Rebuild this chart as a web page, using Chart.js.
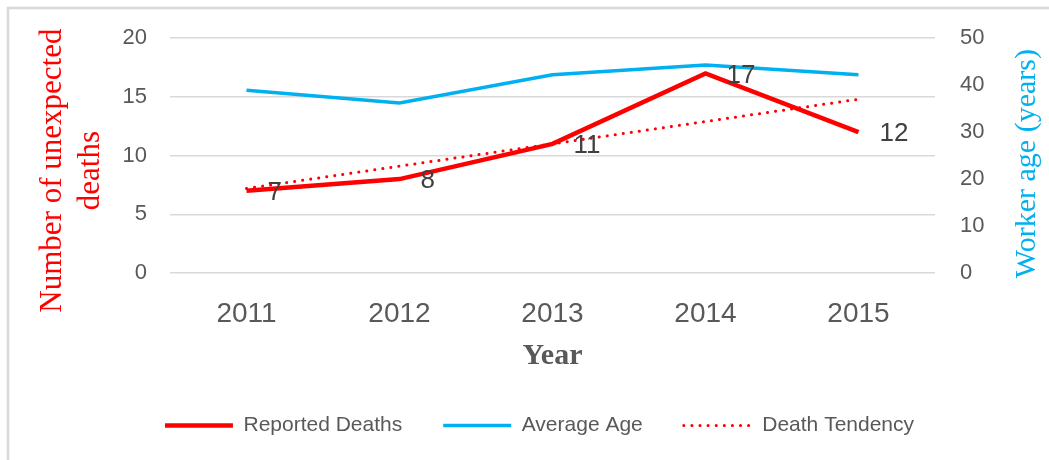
<!DOCTYPE html>
<html>
<head>
<meta charset="utf-8">
<script src="https://cdn.jsdelivr.net/npm/chart.js@4"></script>
<style>
    html, body { margin: 0; padding: 0; background: #fff; }
    #wrap { width: 1049px; height: 460px; }
</style>
</head>
<body>
<div id="wrap"><canvas id="deaths_chart" width="1049" height="460"></canvas></div>
<script>
const years = ["2011", "2012", "2013", "2014", "2015"];
const reportedDeaths = [7, 8, 11, 17, 12];
const averageAge = [38.9, 36.2, 42.2, 44.3, 42.2];
const deathTendency = [7.2, 9.1, 11.0, 12.9, 14.8];
const deathTicks = [0, 5, 10, 15, 20];
const ageTicks = [0, 10, 20, 30, 40, 50];

const RED = "#ff0000", BLUE = "#00b0f0", GREY = "#595959";
const SANS = "'Liberation Sans', Arial, sans-serif";
const SERIF = "'Liberation Serif', 'Times New Roman', serif";

// white background plus the frame on the top and left edges
const frame = {
    id: "frame",
    beforeDraw: function (chart) {
        const ctx = chart.ctx;
        ctx.save();
        ctx.fillStyle = "#fff";
        ctx.fillRect(0, 0, chart.width, chart.height);
        ctx.strokeStyle = "#d9d9d9";
        ctx.lineWidth = 2.5;
        ctx.strokeRect(8, 8, chart.width + 20, chart.height + 20);
        ctx.restore();
    }
};

// vertical axis titles, both reading bottom to top
const sideTitles = {
    id: "sideTitles",
    afterDraw: function (chart) {
        const ctx = chart.ctx;
        const mid = chart.chartArea.top + chart.chartArea.height / 2;
        ctx.save();
        ctx.textAlign = "center";
        ctx.textBaseline = "middle";
        ctx.font = "31px " + SERIF;

        ctx.fillStyle = RED;
        ctx.save();
        ctx.translate(53, mid + 15);
        ctx.rotate(-Math.PI / 2);
        ctx.fillText("Number of unexpected", 0, 0);
        ctx.restore();
        ctx.save();
        ctx.translate(91, mid + 15);
        ctx.rotate(-Math.PI / 2);
        ctx.fillText("deaths", 0, 0);
        ctx.restore();

        ctx.font = "30px " + SERIF;
        ctx.fillStyle = BLUE;
        ctx.translate(1027, mid + 8);
        ctx.rotate(-Math.PI / 2);
        ctx.fillText("Worker age (years)", 0, 0);
        ctx.restore();
    }
};

// value labels next to the reported deaths line
const valueLabels = {
    id: "valueLabels",
    afterDatasetsDraw: function (chart) {
        const ctx = chart.ctx;
        const meta = chart.getDatasetMeta(0);
        ctx.save();
        ctx.font = "26px " + SANS;
        ctx.fillStyle = "#404040";
        ctx.textAlign = "left";
        ctx.textBaseline = "middle";
        meta.data.forEach(function (pt, i) {
            ctx.fillText(String(chart.data.datasets[0].data[i]), pt.x + 21, pt.y + 2);
        });
        ctx.restore();
    }
};

new Chart(document.getElementById("deaths_chart").getContext("2d"), {
    type: "line",
    data: {
        labels: years,
        datasets: [{
            label: "Reported Deaths",
            data: reportedDeaths,
            borderColor: RED,
            backgroundColor: RED,
            borderWidth: 4.5,
            yAxisID: "y",
            order: 1
        }, {
            label: "Average Age",
            data: averageAge,
            borderColor: BLUE,
            backgroundColor: BLUE,
            borderWidth: 3.5,
            yAxisID: "y1",
            order: 3
        }, {
            label: "Death Tendency",
            data: deathTendency,
            borderColor: RED,
            backgroundColor: RED,
            borderWidth: 3,
            borderDash: [0.1, 8],
            borderCapStyle: "round",
            yAxisID: "y",
            order: 2
        }]
    },
    options: {
        responsive: false,
        animation: false,
        events: [],
        layout: {
            padding: {top: 37, left: 30, right: 0, bottom: 14}
        },
        elements: {
            point: {radius: 0},
            line: {tension: 0}
        },
        scales: {
            x: {
                offset: true,
                grid: {display: false, drawTicks: false},
                border: {display: false},
                ticks: {color: GREY, padding: 24, font: {size: 28, family: SANS}},
                title: {
                    display: true,
                    text: "Year",
                    color: GREY,
                    padding: 0,
                    font: {size: 30, weight: "bold", family: SERIF}
                },
                afterFit: function (scale) { scale.height = 101; }
            },
            y: {
                position: "left",
                min: 0,
                max: 20,
                afterBuildTicks: function (scale) {
                    scale.ticks = deathTicks.map(function (v) { return {value: v}; });
                },
                grid: {color: "#d9d9d9", lineWidth: 1.5, drawTicks: false},
                border: {display: false},
                ticks: {color: GREY, padding: 23, font: {size: 22, family: SANS}},
                afterFit: function (scale) { scale.width = 140; }
            },
            y1: {
                position: "right",
                min: 0,
                max: 50,
                afterBuildTicks: function (scale) {
                    scale.ticks = ageTicks.map(function (v) { return {value: v}; });
                },
                grid: {drawOnChartArea: false, drawTicks: false},
                border: {display: false},
                ticks: {color: GREY, padding: 25, font: {size: 22, family: SANS}},
                afterFit: function (scale) { scale.width = 114; }
            }
        },
        plugins: {
            legend: {
                position: "bottom",
                labels: {
                    usePointStyle: true,
                    pointStyle: "line",
                    pointStyleWidth: 68,
                    padding: 41,
                    color: GREY,
                    font: {size: 21, family: SANS},
                    // keep dataset order and carry the line dash into the legend
                    generateLabels: function (chart) {
                        const items = Chart.defaults.plugins.legend.labels.generateLabels(chart);
                        items.sort(function (a, b) { return a.datasetIndex - b.datasetIndex; });
                        items.forEach(function (item) {
                            const ds = chart.data.datasets[item.datasetIndex];
                            item.lineWidth = ds.borderWidth;
                            item.lineDash = ds.borderDash || [];
                            item.lineCap = ds.borderCapStyle || "butt";
                        });
                        return items;
                    }
                }
            },
            tooltip: {enabled: false}
        }
    },
    plugins: [frame, sideTitles, valueLabels]
});
</script>
</body>
</html>
